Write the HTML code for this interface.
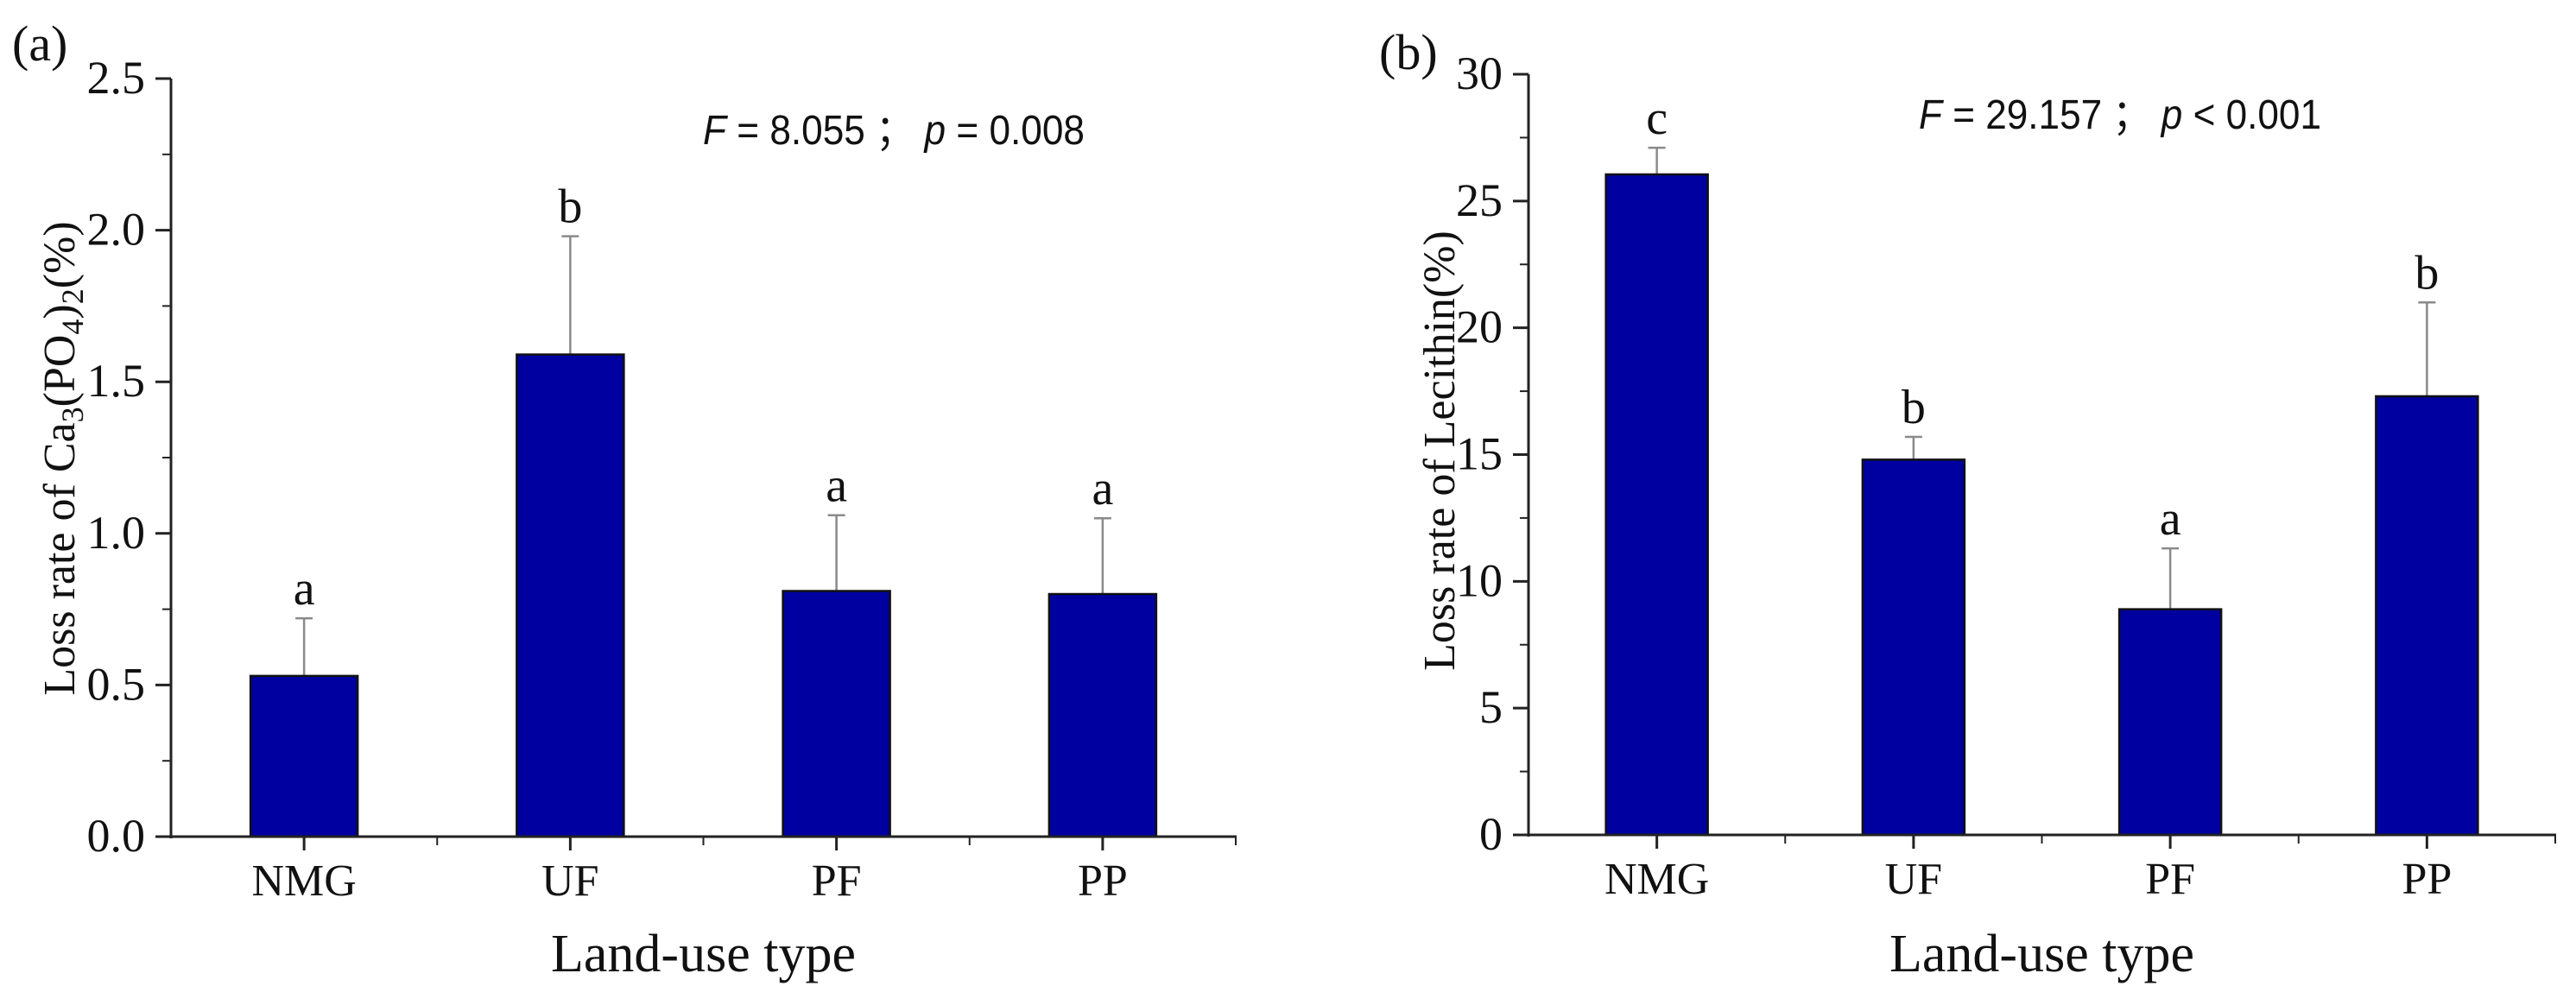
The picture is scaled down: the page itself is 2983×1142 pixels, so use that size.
<!DOCTYPE html>
<html><head><meta charset="utf-8">
<style>
html,body{margin:0;padding:0;background:#fff;}
svg{display:block;}
text{font-family:"Liberation Serif",serif;fill:#111;}
.st{font-family:"Liberation Sans",sans-serif;}
</style></head>
<body>
<svg id="fig" width="2983" height="1142" viewBox="0 0 2983 1142" xmlns="http://www.w3.org/2000/svg"></svg>
<script>
const categories = ["NMG","UF","PF","PP"];
const valuesA = [0.53, 1.59, 0.81, 0.80];
const errTopA = [0.72, 1.98, 1.06, 1.05];
const lettersA = ["a","b","a","a"];
const ticksA = ["0.0","0.5","1.0","1.5","2.0","2.5"];
const valuesB = [26.05, 14.8, 8.9, 17.3];
const errTopB = [27.1, 15.7, 11.3, 21.0];
const lettersB = ["c","b","a","b"];
const ticksB = ["0","5","10","15","20","25","30"];

const NS = "http://www.w3.org/2000/svg";
const svg = document.getElementById("fig");
function mk(tag, attrs, parent, txt){
  const e = document.createElementNS(NS, tag);
  for (const k in attrs) e.setAttribute(k, attrs[k]);
  if (txt !== undefined) e.textContent = txt;
  (parent||svg).appendChild(e);
  return e;
}

function panel(cfg){
  const g = mk("g", {});
  
  
  const ymax = parseFloat(cfg.ticks[cfg.ticks.length-1]);
  const yS = v => cfg.y0 - (v/ymax)*(cfg.y0-cfg.yTop);
  const step = (cfg.x1-cfg.x0)/cfg.cats.length;
  const xC = i => cfg.x0 + step*(i+0.5);

  cfg.vals.forEach((v,i)=>{
    const eb = mk("line", {x1:xC(i), x2:xC(i), y1:yS(v), y2:yS(cfg.err[i]), stroke:"#8a8a8a", "stroke-width":2.5}, g);
    
    
    const cap = mk("line", {x1:xC(i)-10, x2:xC(i)+10, y1:yS(cfg.err[i]), y2:yS(cfg.err[i]), stroke:"#8a8a8a", "stroke-width":2.5}, g);
    
    
    const r = mk("rect", {x:xC(i)-cfg.bw/2, y:yS(v), width:cfg.bw, height:yS(0)-yS(v), fill:"#0000a0", stroke:"#111", "stroke-width":2.5}, g);
    
    
    const lt = mk("text", {x:xC(i), y:yS(cfg.err[i])-16, "text-anchor":"middle", "font-size":56}, g, cfg.letters[i]);
    
    
    const tk = mk("line", {x1:xC(i), x2:xC(i), y1:cfg.y0, y2:cfg.y0+16, stroke:"#222", "stroke-width":3}, g);
    
    
    const xl = mk("text", {x:xC(i), y:cfg.y0+68, "text-anchor":"middle", "font-size":52}, g, cfg.cats[i]);
    
    
  });
  for (let i=1;i<cfg.cats.length;i++){
    const mt = mk("line", {x1:cfg.x0+step*i, x2:cfg.x0+step*i, y1:cfg.y0, y2:cfg.y0+10, stroke:"#222", "stroke-width":2}, g);
    
    
  }
  const et = mk("line", {x1:cfg.x1, x2:cfg.x1, y1:cfg.y0, y2:cfg.y0+10, stroke:"#222", "stroke-width":2}, g);
  
  

  cfg.ticks.forEach((t,i)=>{
    const v = parseFloat(t);
    const y = yS(v);
    const l = mk("line", {x1:cfg.x0-18, x2:cfg.x0, y1:y, y2:y, stroke:"#222", "stroke-width":3}, g);
    
    
    const tl = mk("text", {x:cfg.x0-30, y:y+17, "text-anchor":"end", "font-size":54}, g, t);
    
    
    if (i < cfg.ticks.length-1){
      const vm = (v + parseFloat(cfg.ticks[i+1]))/2;
      const m = mk("line", {x1:cfg.x0-10, x2:cfg.x0, y1:yS(vm), y2:yS(vm), stroke:"#222", "stroke-width":2}, g);
      
      
    }
  });

  const ya = mk("line", {x1:cfg.x0, x2:cfg.x0, y1:cfg.yTop, y2:cfg.y0+2, stroke:"#222", "stroke-width":3}, g);
  
  
  const xa = mk("line", {x1:cfg.x0-18, x2:cfg.x1+1, y1:cfg.y0, y2:cfg.y0, stroke:"#222", "stroke-width":3}, g);
  
  

  const xt = mk("text", {x:(cfg.x0+cfg.x1)/2, y:1125, "text-anchor":"middle", "font-size":62}, g, "Land-use type");
  
  
  const pl = mk("text", {x:cfg.plx, y:cfg.ply, "font-size":58}, g, cfg.panelLabel);
  
  
  return {g, yS};
}

const A = panel({name:"panel-a", x0:198, x1:1431, y0:969, yTop:91, bw:124, cats:categories, vals:valuesA, err:errTopA, letters:lettersA, ticks:ticksA, panelLabel:"(a)", plx:14, ply:70});
const B = panel({name:"panel-b", x0:1770, x1:2959, y0:967, yTop:86, bw:118, cats:categories, vals:valuesB, err:errTopB, letters:lettersB, ticks:ticksB, panelLabel:"(b)", plx:1597, ply:80});

const yA = mk("text", {transform:"translate(86,531) rotate(-90)", "text-anchor":"middle", "font-size":52});


yA.innerHTML = 'Loss rate of Ca<tspan font-size="36" dy="10">3</tspan><tspan dy="-10">(PO</tspan><tspan font-size="36" dy="10">4</tspan><tspan dy="-10">)</tspan><tspan font-size="36" dy="10">2</tspan><tspan dy="-10">(%)</tspan>';
const yB = mk("text", {transform:"translate(1684,522) rotate(-90)", "text-anchor":"middle", "font-size":52}, svg, "Loss rate of Lecithin(%)");



const sA = mk("text", {x:814, y:167, "font-size":48, "class":"st", textLength:442, lengthAdjust:"spacingAndGlyphs"});


sA.innerHTML = '<tspan font-style="italic">F</tspan> = 8.055 ；  <tspan font-style="italic">p</tspan> = 0.008';
const sB = mk("text", {x:2222, y:149, "font-size":48, "class":"st", textLength:466, lengthAdjust:"spacingAndGlyphs"});


sB.innerHTML = '<tspan font-style="italic">F</tspan> = 29.157 ；  <tspan font-style="italic">p</tspan> &lt; 0.001';
</script>
</body></html>
